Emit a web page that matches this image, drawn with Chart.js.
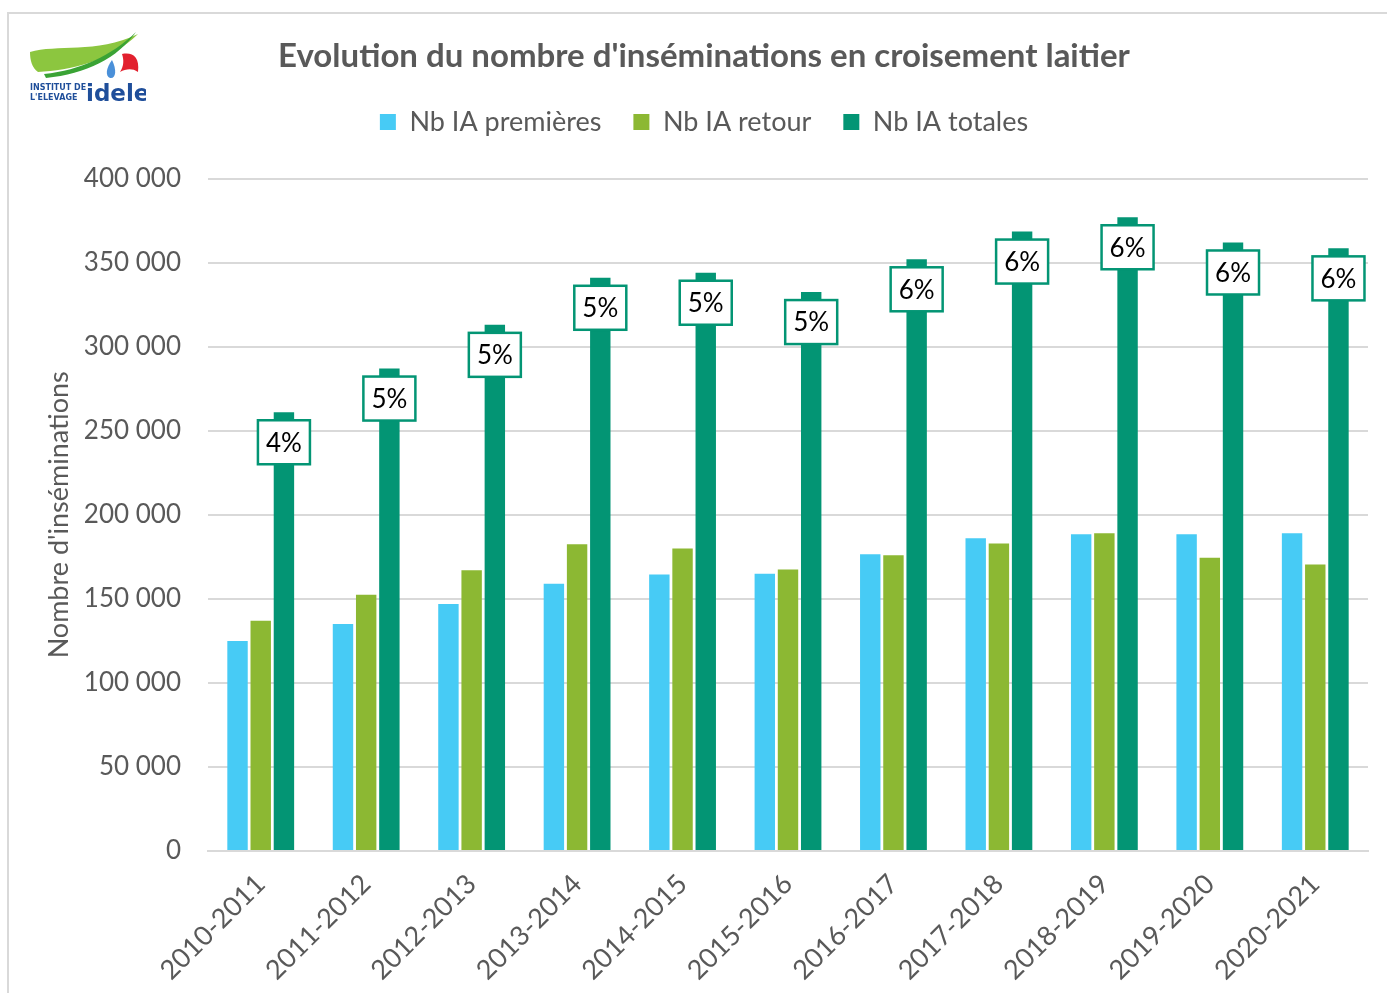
<!DOCTYPE html>
<html>
<head>
<meta charset="utf-8">
<script src="https://cdn.jsdelivr.net/npm/chart.js@4.4.1/dist/chart.umd.min.js"></script>
<style>
  html, body { margin: 0; padding: 0; background: #fff; overflow: hidden; }
  #frame { position: absolute; left: 7px; top: 12px; width: 1400px; height: 1000px; border: 2px solid #d9d9d9; }
  #logo { position: absolute; left: 26px; top: 28px; }
  canvas { position: absolute; left: 0; top: 0; }
</style>
</head>
<body>
<div id="frame"></div>
<canvas id="chart" width="1387" height="993"></canvas>
<svg id="logo" width="120" height="80" viewBox="0 0 120 80">
  <path d="M4 24 C 30 16, 70 26, 112 6 C 84 34, 44 42, 12 44 C 6 40, 4 32, 4 24 Z" fill="#8cc63f"/>
  <path d="M18 46 C 55 42, 85 28, 110 4 C 92 30, 60 46, 20 50 Z" fill="#3aa335"/>
  <path d="M86 32 C 80 40, 79 48, 84 50 C 90 51, 91 42, 86 32 Z" fill="#4a90d9"/>
  <path d="M96 26 C 106 24, 114 28, 112 44 C 106 40, 100 41, 94 44 C 98 38, 98 32, 96 26 Z" fill="#e2202e"/>
  <text x="4" y="62" font-family="DejaVu Sans" font-weight="bold" font-size="8" fill="#1f4e9a">INSTITUT DE</text>
  <text x="4" y="72" font-family="DejaVu Sans" font-weight="bold" font-size="8" fill="#1f4e9a">L'ELEVAGE</text>
  <text x="60" y="73" font-family="DejaVu Sans" font-weight="bold" font-size="23" fill="#1f4e9a">idele</text>
</svg>
<script>
const categories = ['2010-2011', '2011-2012', '2012-2013', '2013-2014', '2014-2015', '2015-2016',
                    '2016-2017', '2017-2018', '2018-2019', '2019-2020', '2020-2021'];
const iaPremieres = [125000, 135000, 147000, 159000, 164500, 165000, 176500, 186000, 188500, 188500, 189000];
const iaRetour = [137000, 152500, 167000, 182500, 180000, 167500, 176000, 183000, 189000, 174500, 170500];
const iaTotales = [261000, 287000, 313000, 341000, 344000, 332500, 352000, 368500, 377000, 362000, 358500];
const pctLabels = ['4%', '5%', '5%', '5%', '5%', '5%', '6%', '6%', '6%', '6%', '6%'];
const yTicks = [0, 50000, 100000, 150000, 200000, 250000, 300000, 350000, 400000];

const FONT = 'Lato';
const GREY = '#595959';
const PAD_LEFT = 40;

// boxes with the percentage on the "totales" bars
const pctBoxes = {
  id: 'pctBoxes',
  afterDatasetsDraw(chart) {
    const ctx = chart.ctx;
    const meta = chart.getDatasetMeta(2);
    ctx.save();
    meta.data.forEach((bar, i) => {
      const w = 52, h = 44;
      const x = bar.x - w / 2;
      const y = bar.y + 8;
      ctx.fillStyle = '#fff';
      ctx.fillRect(x, y, w, h);
      ctx.strokeStyle = '#039574';
      ctx.lineWidth = 2.5;
      ctx.strokeRect(x, y, w, h);
      ctx.fillStyle = '#000';
      ctx.font = '26px ' + FONT;
      ctx.textAlign = 'center';
      ctx.textBaseline = 'middle';
      ctx.fillText(pctLabels[i], bar.x, y + h / 2 + 1);
    });
    ctx.restore();
  }
};

const ctx = document.getElementById('chart').getContext('2d');
new Chart(ctx, {
  type: 'bar',
  data: {
    labels: categories,
    datasets: [
      { label: 'Nb IA premières', data: iaPremieres, backgroundColor: '#47cbf5' },
      { label: 'Nb IA retour', data: iaRetour, backgroundColor: '#8cb833' },
      { label: 'Nb IA totales', data: iaTotales, backgroundColor: '#039574' }
    ]
  },
  options: {
    responsive: false,
    animation: false,
    categoryPercentage: 0.66,
    barPercentage: 0.88,
    layout: { padding: { left: PAD_LEFT, right: 19, top: 0, bottom: 0 } },
    plugins: {
      title: {
        display: true,
        text: "Evolution du nombre d'inséminations en croisement laitier",
        color: GREY,
        font: { family: FONT, size: 33, weight: 'bold' },
        padding: { top: 37, bottom: 0 }
      },
      // spacer between legend and plot area
      subtitle: {
        display: true,
        text: ' ',
        weight: 500,
        font: { size: 1, lineHeight: 1 },
        padding: { top: 32, bottom: 0 }
      },
      legend: {
        position: 'top',
        labels: {
          color: GREY,
          font: { family: FONT, size: 27 },
          boxWidth: 16,
          boxHeight: 16,
          padding: 32
        }
      },
      tooltip: { enabled: false }
    },
    scales: {
      x: {
        grid: { display: false, drawTicks: false },
        border: { color: '#d9d9d9', width: 2 },
        ticks: {
          color: GREY,
          font: { family: FONT, size: 27 },
          maxRotation: 45,
          minRotation: 45,
          padding: 17
        },
        afterFit: s => { s.height = 993 - 851; }
      },
      y: {
        min: 0,
        max: 400000,
        afterBuildTicks: s => { s.ticks = yTicks.map(v => ({ value: v })); },
        grid: { color: '#d9d9d9', lineWidth: 2, drawTicks: false },
        border: { display: false },
        ticks: {
          color: GREY,
          font: { family: FONT, size: 26 },
          padding: 27,
          callback: v => v === 0 ? '0' : String(v).replace(/\B(?=(\d{3})+(?!\d))/g, ' ')
        },
        title: {
          display: true,
          text: "Nombre d'inséminations",
          color: GREY,
          font: { family: FONT, size: 27 },
          padding: { top: 43 - PAD_LEFT, bottom: 0 }
        },
        afterFit: s => { s.width = 208 - PAD_LEFT; }
      }
    }
  },
  plugins: [pctBoxes]
});
</script>
</body>
</html>
